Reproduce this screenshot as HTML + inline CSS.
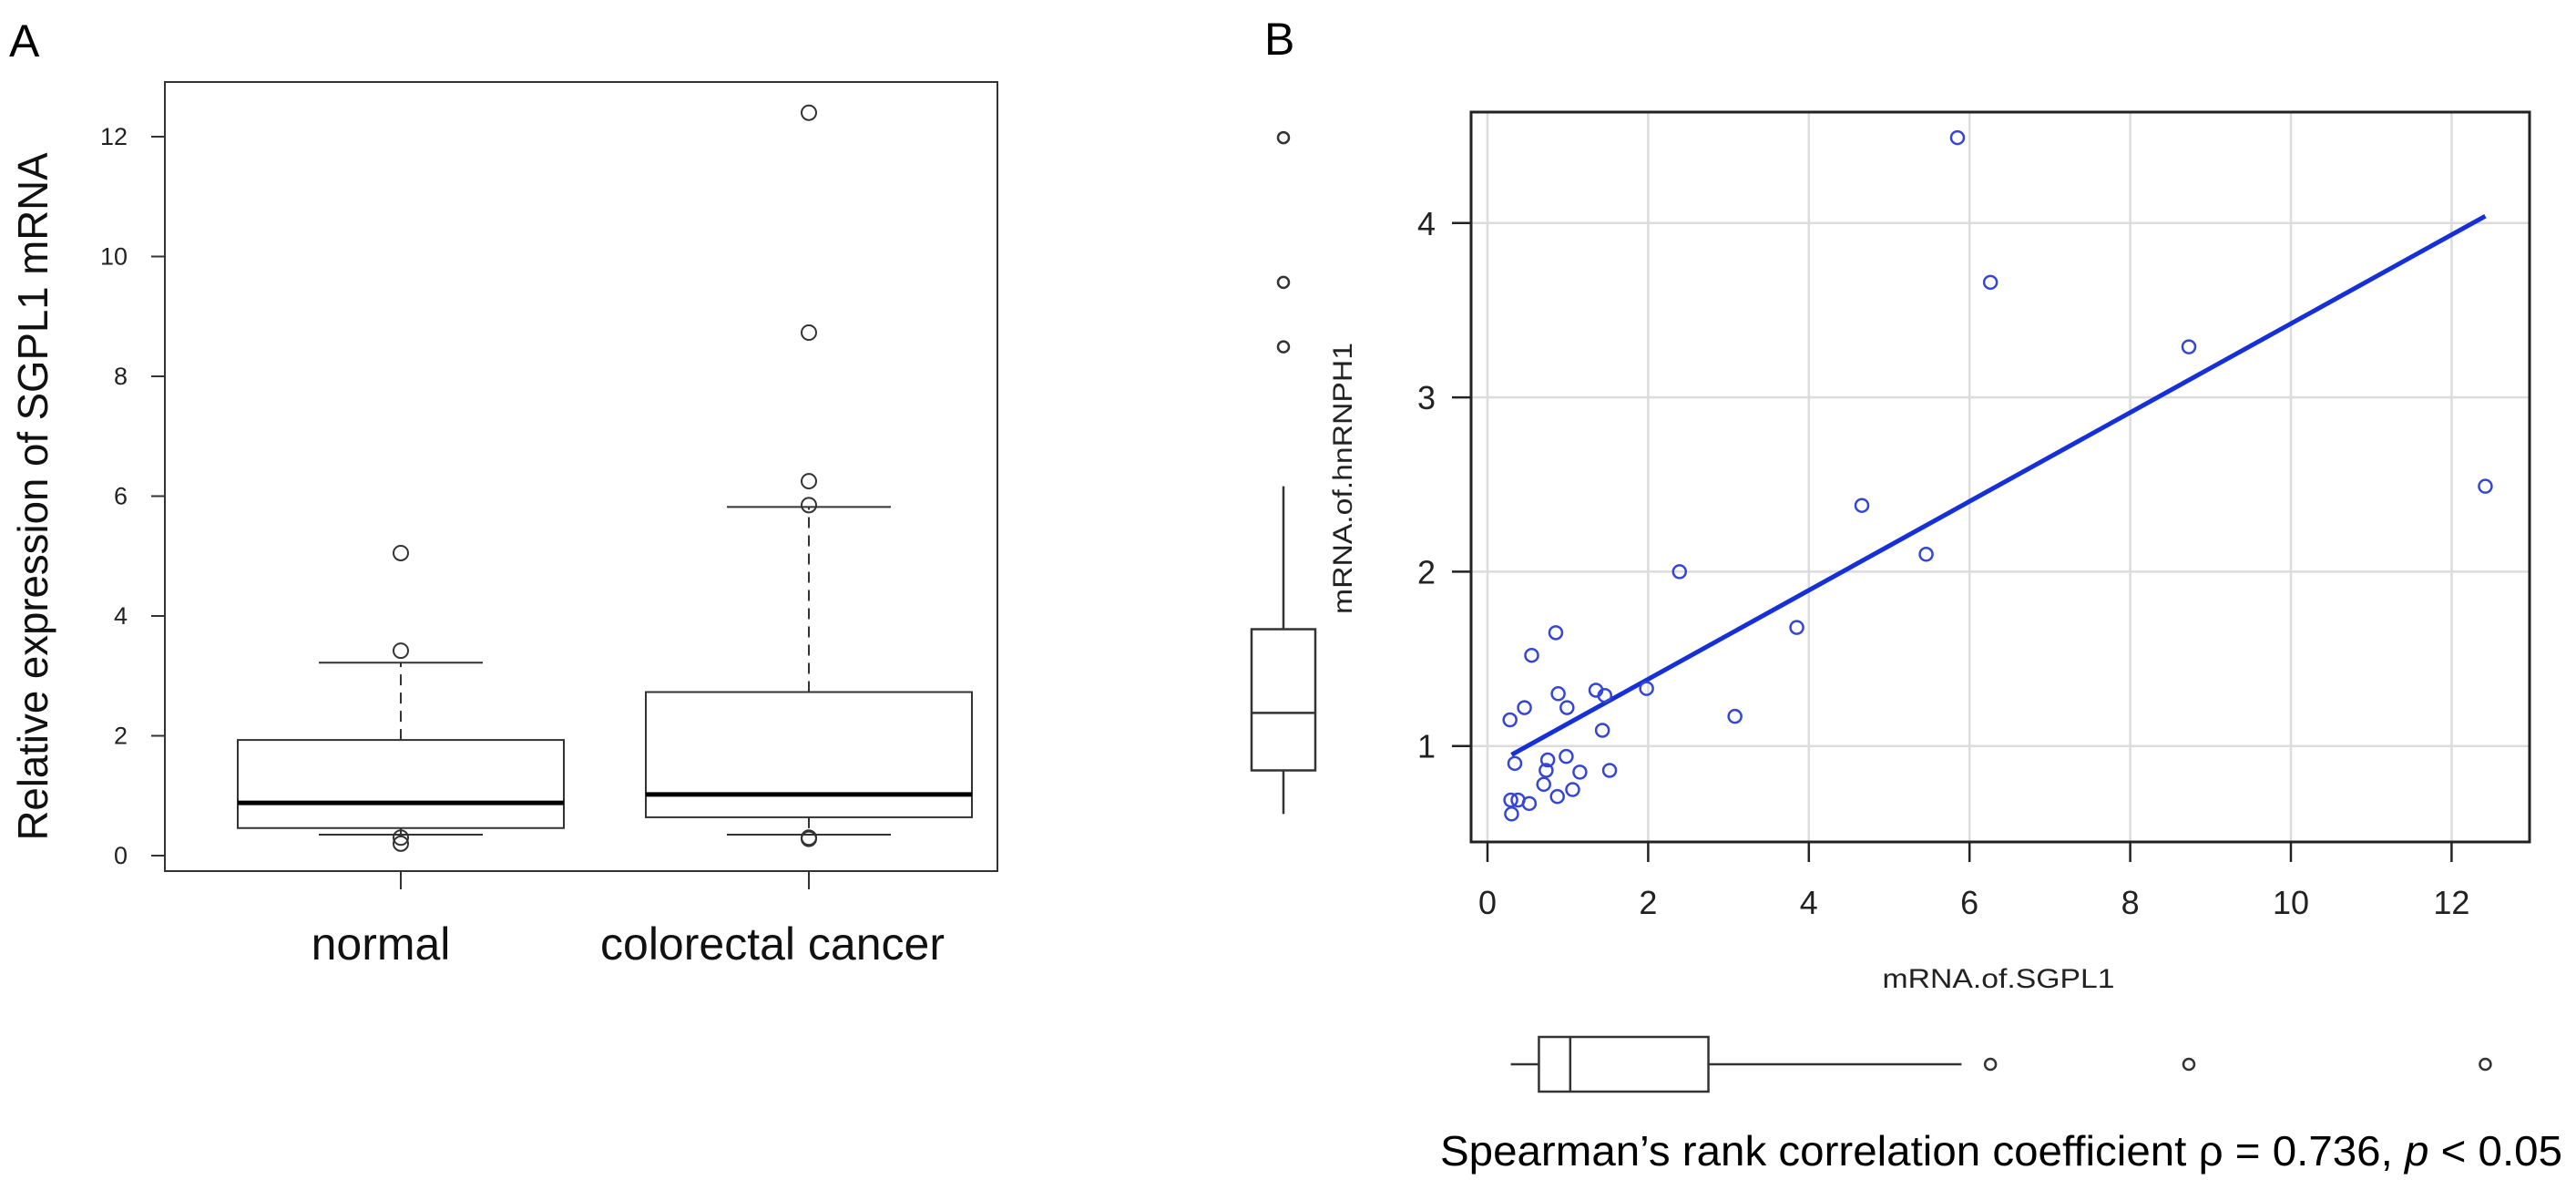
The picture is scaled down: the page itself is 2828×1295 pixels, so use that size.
<!DOCTYPE html>
<html><head><meta charset="utf-8">
<style>
html,body{margin:0;padding:0;background:#fff;}
svg{display:block;font-family:"Liberation Sans",Arial,sans-serif;}
</style></head>
<body>
<svg id="fig" width="2828" height="1295" viewBox="0 0 2828 1295" xmlns="http://www.w3.org/2000/svg">
  <text x="10" y="62" font-size="50" fill="#000">A</text>
  <text x="1388" y="60" font-size="50" fill="#000">B</text>
  <g id="panelA"></g>
  <g id="panelB"></g>
  <text x="1581" y="1279" font-size="46" fill="#000" textLength="1232" lengthAdjust="spacingAndGlyphs">Spearman’s rank correlation coefficient ρ = 0.736, <tspan font-style="italic">p</tspan> &lt; 0.05</text>
</svg>
<script>
// ---- Panel A data ----
const groupNames = ["normal", "colorectal cancer"];
const boxQ1 = [0.46, 0.64];
const boxMedian = [0.88, 1.02];
const boxQ3 = [1.93, 2.73];
const whiskerLow = [0.35, 0.35];
const whiskerHigh = [3.22, 5.82];
const outliersNormal = [5.05, 3.42, 0.30, 0.20];
const outliersCancer = [12.4, 8.73, 6.25, 5.85, 0.30, 0.28];
const yTicksA = [0, 2, 4, 6, 8, 10, 12];

// ---- Panel B data ----
const sgpl1 = [5.85, 6.26, 4.66, 5.46, 2.39, 3.85, 0.85, 0.55, 1.98, 1.35, 1.46, 0.88, 0.99, 0.46, 0.28, 3.08, 1.43, 0.34, 0.98, 0.75, 0.73, 1.15, 1.52, 0.70, 0.87, 1.06, 0.29, 0.38, 0.52, 0.30, 8.73, 12.42];
const hnrnph1 = [4.49, 3.66, 2.38, 2.10, 2.00, 1.68, 1.65, 1.52, 1.33, 1.32, 1.29, 1.30, 1.22, 1.22, 1.15, 1.17, 1.09, 0.90, 0.94, 0.92, 0.86, 0.85, 0.86, 0.78, 0.71, 0.75, 0.69, 0.69, 0.67, 0.61, 3.29, 2.49];
const fitX = [0.30, 12.42];
const fitY = [0.95, 4.04];
const xTicksB = [0, 2, 4, 6, 8, 10, 12];
const yTicksB = [1, 2, 3, 4];
// marginal boxplots
const xBox = [0.29, 0.64, 1.03, 2.75, 5.90]; // wlo, q1, med, q3, whi
const xBoxOut = [6.26, 8.73, 12.42];
const yBox = [0.61, 0.86, 1.19, 1.67, 2.49];
const yBoxOut = [3.29, 3.66, 4.49];

const NS = "http://www.w3.org/2000/svg";
function mk(parent, tag, attrs, text) {
  const e = document.createElementNS(NS, tag);
  for (const k in attrs) e.setAttribute(k, attrs[k]);
  if (text !== undefined) e.textContent = text;
  parent.appendChild(e);
  return e;
}

// ===== Panel A =====
const A = document.getElementById('panelA');
const yA = v => 939 - v * 65.75;
const xCenters = [440, 888];
const halfBox = 179;
const halfCap = 90;
let e;
e = mk(A, 'rect', {x:181, y:90, width:914, height:866, fill:'none', stroke:'#333', 'stroke-width':2});


yTicksA.forEach(t => {
  e = mk(A, 'line', {x1:166, x2:181, y1:yA(t), y2:yA(t), stroke:'#333', 'stroke-width':2});
  
  
  e = mk(A, 'text', {x:140, y:yA(t)+9, 'font-size':27, 'text-anchor':'end', fill:'#222'}, String(t));
  
  
});
e = mk(A, 'text', {x:0, y:0, 'font-size':46, 'text-anchor':'middle', fill:'#111', transform:'translate(52,545) rotate(-90)', textLength:755, lengthAdjust:'spacingAndGlyphs'}, 'Relative expression of SGPL1 mRNA');



const outs = [outliersNormal, outliersCancer];
groupNames.forEach((g, i) => {
  const cx = xCenters[i];
  e = mk(A, 'line', {x1:cx, x2:cx, y1:yA(boxQ3[i]), y2:yA(whiskerHigh[i]), stroke:'#333', 'stroke-width':2, 'stroke-dasharray':'12,8'});
  
  
  e = mk(A, 'line', {x1:cx, x2:cx, y1:yA(boxQ1[i]), y2:yA(whiskerLow[i]), stroke:'#333', 'stroke-width':2, 'stroke-dasharray':'12,8'});
  
  
  [whiskerHigh[i], whiskerLow[i]].forEach(w => {
    e = mk(A, 'line', {x1:cx-halfCap, x2:cx+halfCap, y1:yA(w), y2:yA(w), stroke:'#333', 'stroke-width':2});
    
    
  });
  e = mk(A, 'rect', {x:cx-halfBox, y:yA(boxQ3[i]), width:2*halfBox, height:yA(boxQ1[i])-yA(boxQ3[i]), fill:'#fff', stroke:'#333', 'stroke-width':2});
  
  
  e = mk(A, 'line', {x1:cx-halfBox, x2:cx+halfBox, y1:yA(boxMedian[i]), y2:yA(boxMedian[i]), stroke:'#000', 'stroke-width':5});
  
  
  outs[i].forEach(v => {
    e = mk(A, 'circle', {cx:cx, cy:yA(v), r:8, fill:'none', stroke:'#333', 'stroke-width':2});
    
    
  });
  e = mk(A, 'line', {x1:cx, x2:cx, y1:956, y2:976, stroke:'#333', 'stroke-width':2});
  
  
  e = mk(A, 'text', {x:cx - (i === 0 ? 22 : 40), y:1053, 'font-size':50, 'text-anchor':'middle', fill:'#111'}, g);
  
  
});

// ===== Panel B =====
const B = document.getElementById('panelB');
const xB = v => 1633 + v * 88.2;
const yB = v => 1010 - v * 191.3;
xTicksB.forEach(t => {
  e = mk(B, 'line', {x1:xB(t), x2:xB(t), y1:123, y2:924, stroke:'#dcdcdc', 'stroke-width':2.5});
  
  
  e = mk(B, 'line', {x1:xB(t), x2:xB(t), y1:924, y2:946, stroke:'#222', 'stroke-width':2.5});
  
  
  e = mk(B, 'text', {x:xB(t), y:1003, 'font-size':36, 'text-anchor':'middle', fill:'#222'}, String(t));
  
  
});
yTicksB.forEach(t => {
  e = mk(B, 'line', {x1:1615, x2:2777, y1:yB(t), y2:yB(t), stroke:'#dcdcdc', 'stroke-width':2.5});
  
  
  e = mk(B, 'line', {x1:1594, x2:1615, y1:yB(t), y2:yB(t), stroke:'#222', 'stroke-width':2.5});
  
  
  e = mk(B, 'text', {x:1566, y:yB(t)+13, 'font-size':36, 'text-anchor':'middle', fill:'#222'}, String(t));
  
  
});
e = mk(B, 'rect', {x:1615, y:123, width:1162, height:801, fill:'none', stroke:'#222', 'stroke-width':3});


e = mk(B, 'line', {x1:xB(fitX[0]), y1:yB(fitY[0]), x2:xB(fitX[1]), y2:yB(fitY[1]), stroke:'#1530d8', 'stroke-width':5});


sgpl1.forEach((v, i) => {
  e = mk(B, 'circle', {cx:xB(v), cy:yB(hnrnph1[i]), r:7, fill:'none', stroke:'#3546d6', 'stroke-width':2.5});
  
  
});
e = mk(B, 'text', {x:2194, y:1084, 'font-size':30, 'text-anchor':'middle', fill:'#222', textLength:255, lengthAdjust:'spacingAndGlyphs'}, 'mRNA.of.SGPL1');


e = mk(B, 'text', {x:0, y:0, 'font-size':30, 'text-anchor':'middle', fill:'#222', transform:'translate(1484,525) rotate(-90)', textLength:298, lengthAdjust:'spacingAndGlyphs'}, 'mRNA.of.hnRNPH1');



// bottom marginal boxplot (x)
const by = 1168, bh = 30;
e = mk(B, 'line', {x1:xB(xBox[0]), x2:xB(xBox[1]), y1:by, y2:by, stroke:'#333', 'stroke-width':2.5});


e = mk(B, 'line', {x1:xB(xBox[3]), x2:xB(xBox[4]), y1:by, y2:by, stroke:'#333', 'stroke-width':2.5});


e = mk(B, 'rect', {x:xB(xBox[1]), y:by-bh, width:xB(xBox[3])-xB(xBox[1]), height:2*bh, fill:'#fff', stroke:'#333', 'stroke-width':2.5});


e = mk(B, 'line', {x1:xB(xBox[2]), x2:xB(xBox[2]), y1:by-bh, y2:by+bh, stroke:'#333', 'stroke-width':2.5});


xBoxOut.forEach(v => {
  e = mk(B, 'circle', {cx:xB(v), cy:by, r:6, fill:'none', stroke:'#333', 'stroke-width':2.5});
  
  
});

// left marginal boxplot (y)
const bx = 1409, bw = 35;
e = mk(B, 'line', {x1:bx, x2:bx, y1:yB(yBox[0]), y2:yB(yBox[1]), stroke:'#333', 'stroke-width':2.5});


e = mk(B, 'line', {x1:bx, x2:bx, y1:yB(yBox[3]), y2:yB(yBox[4]), stroke:'#333', 'stroke-width':2.5});


e = mk(B, 'rect', {x:bx-bw, y:yB(yBox[3]), width:2*bw, height:yB(yBox[1])-yB(yBox[3]), fill:'#fff', stroke:'#333', 'stroke-width':2.5});


e = mk(B, 'line', {x1:bx-bw, x2:bx+bw, y1:yB(yBox[2]), y2:yB(yBox[2]), stroke:'#333', 'stroke-width':2.5});


yBoxOut.forEach(v => {
  e = mk(B, 'circle', {cx:bx, cy:yB(v), r:6, fill:'none', stroke:'#333', 'stroke-width':2.5});
  
  
});
</script>
</body></html>
